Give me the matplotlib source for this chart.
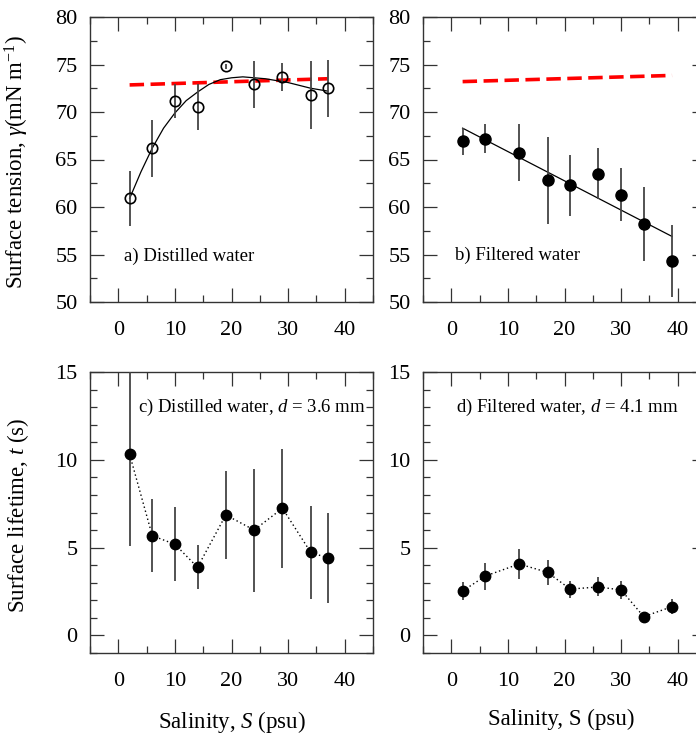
import numpy as np
import matplotlib
matplotlib.use('Agg')
import matplotlib.pyplot as plt
from matplotlib.ticker import MultipleLocator

plt.rcParams['font.family'] = ['Liberation Serif', 'DejaVu Serif']
plt.rcParams['mathtext.fontset'] = 'custom'
plt.rcParams['mathtext.rm'] = 'Liberation Serif'
plt.rcParams['mathtext.it'] = 'Liberation Serif:italic'

# a) distilled water, surface tension
sal_a = [2, 6, 10, 14, 19, 24, 29, 34, 37]
gam_a = [60.9, 66.2, 71.2, 70.5, 74.8, 72.9, 73.7, 71.8, 72.5]
gam_a_err = [2.9, 3.0, 1.8, 2.4, 0.3, 2.5, 1.5, 3.6, 3.0]
fit_a_x = [2, 4, 6, 8, 10, 12, 14, 16, 18, 20, 22, 24, 26, 28, 30, 32, 34, 37]
fit_a_y = [60.9, 63.7, 66.2, 68.3, 69.9, 71.2, 72.1, 72.9, 73.4, 73.6, 73.7,
           73.6, 73.5, 73.3, 73.1, 72.8, 72.5, 72.2]
sw_a_x = [2, 37]
sw_a_y = [72.85, 73.5]

# b) filtered water, surface tension
sal_b = [2, 6, 12, 17, 21, 26, 30, 34, 39]
gam_b = [66.9, 67.2, 65.7, 62.8, 62.3, 63.5, 61.3, 58.25, 54.3]
gam_b_err = [1.4, 1.5, 3.0, 4.6, 3.2, 2.7, 2.8, 3.9, 3.8]
fit_b_x = [2, 39]
fit_b_y = [68.3, 56.9]
sw_b_x = [2, 39]
sw_b_y = [73.2, 73.85]

# c) distilled water, lifetime
life_c = [10.31, 5.68, 5.19, 3.88, 6.86, 6.0, 7.24, 4.73, 4.41]
life_c_err = [5.2, 2.08, 2.1, 1.25, 2.5, 3.5, 3.4, 2.66, 2.55]

# d) filtered water, lifetime
life_d = [2.53, 3.38, 4.07, 3.59, 2.64, 2.76, 2.59, 1.07, 1.64]
life_d_err = [0.52, 0.77, 0.85, 0.71, 0.48, 0.54, 0.49, 0.1, 0.43]

fig = plt.figure(figsize=(6.96, 7.35), dpi=100)
W = 283 / 696
ax_a = fig.add_axes([90 / 696, 1 - 302 / 735, W, 285 / 735])
ax_b = fig.add_axes([423 / 696, 1 - 302 / 735, W, 285 / 735])
ax_c = fig.add_axes([90 / 696, 1 - 653 / 735, W, 281 / 735])
ax_d = fig.add_axes([423 / 696, 1 - 653 / 735, W, 281 / 735])

ebar = dict(fmt='o', ecolor='#444444', elinewidth=1.3, capsize=0, zorder=3)

# panel a
ax_a.plot(sw_a_x, sw_a_y, color='red', lw=2.6, dashes=(4, 1.8), zorder=2)
ax_a.plot(fit_a_x, fit_a_y, color='black', lw=0.9, zorder=2)
ax_a.errorbar(sal_a, gam_a, yerr=gam_a_err, mfc='none', mec='black',
              mew=1.2, ms=7.5, **ebar)

# panel b
ax_b.plot(sw_b_x, sw_b_y, color='red', lw=2.6, dashes=(4, 1.8), zorder=2)
ax_b.plot(fit_b_x, fit_b_y, color='black', lw=0.9, zorder=2)
ax_b.errorbar(sal_b, gam_b, yerr=gam_b_err, color='black', ms=8, **ebar)

# panels c, d
ax_c.errorbar(sal_a, life_c, yerr=life_c_err, color='black', ms=7.5, **ebar)
ax_c.plot(sal_a, life_c, color='black', lw=1, ls=(0, (1, 2)), zorder=2)
ax_d.errorbar(sal_b, life_d, yerr=life_d_err, color='black', ms=7.5, **ebar)
ax_d.plot(sal_b, life_d, color='black', lw=1, ls=(0, (1, 2)), zorder=2)

for ax in (ax_a, ax_b):
    ax.set_ylim(50, 80)
    ax.yaxis.set_major_locator(MultipleLocator(5))
    ax.yaxis.set_minor_locator(MultipleLocator(2.5))
for ax in (ax_c, ax_d):
    ax.set_ylim(-1, 15)
    ax.yaxis.set_major_locator(MultipleLocator(5))
    ax.yaxis.set_minor_locator(MultipleLocator(1))

for ax in (ax_a, ax_b, ax_c, ax_d):
    ax.set_xlim(-5, 45)
    ax.xaxis.set_major_locator(MultipleLocator(10))
    ax.xaxis.set_minor_locator(MultipleLocator(5))
    ax.set_xticks([0, 10, 20, 30, 40])
    ax.tick_params(which='both', direction='in', top=True, right=True,
                   color='#333333', width=0.9, labelsize=16)
    ax.tick_params(which='major', length=10)
    ax.tick_params(which='minor', length=5)
    ax.tick_params(axis='x', pad=14)
    ax.tick_params(axis='y', pad=9)
    for s in ax.spines.values():
        s.set_color('#333333')
        s.set_linewidth(1)

ax_a.text(1, 54.8, 'a) Distilled water', fontsize=13.5, va='center')
ax_b.text(0.7, 54.9, 'b) Filtered water', fontsize=13.5, va='center')
ax_c.text(3.4, 13.0, 'c) Distilled water, $d$ = 3.6 mm', fontsize=13.5, va='center')
ax_d.text(0.9, 13.0, 'd) Filtered water, $d$ = 4.1 mm', fontsize=13.5, va='center')

ax_a.set_ylabel(r'Surface tension, $\gamma$(mN m$^{-1}$)', fontsize=16.5)
ax_a.yaxis.set_label_coords(-0.21, 0.49)
ax_c.set_ylabel('Surface lifetime, $t$ (s)', fontsize=16.5)
ax_c.yaxis.set_label_coords(-0.21, 0.49)
ax_c.set_xlabel('Salinity, $S$ (psu)', fontsize=16.5)
ax_c.xaxis.set_label_coords(0.5, -0.2)
ax_d.set_xlabel('Salinity, S (psu)', fontsize=16.5)
ax_d.xaxis.set_label_coords(0.49, -0.2)

fig.savefig('out.png', dpi=100)
